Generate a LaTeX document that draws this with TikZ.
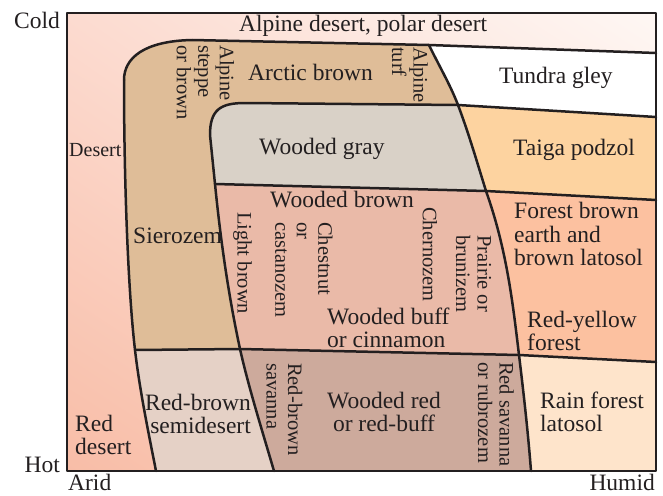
\documentclass[tikz,border=0pt]{standalone}
\usepackage{fontspec}
\setmainfont{Liberation Serif}
\usetikzlibrary{shadings}
\definecolor{bgUL}{HTML}{FCDBD0}
\definecolor{bgUR}{HTML}{FEF7F4}
\definecolor{bgLL}{HTML}{F8BDA7}
\definecolor{bgLR}{HTML}{FCD6C6}
\definecolor{tanc}{HTML}{DFBD98}
\definecolor{grayc}{HTML}{D9D1C7}
\definecolor{wbrownc}{HTML}{EABAA8}
\definecolor{taigac}{HTML}{FDD3A0}
\definecolor{forestc}{HTML}{FCC1A0}
\definecolor{rainc}{HTML}{FEE4CB}
\definecolor{semic}{HTML}{E5D1C6}
\definecolor{wredc}{HTML}{CDAA9C}
\definecolor{lc}{HTML}{231F20}
\definecolor{txt}{HTML}{231F20}
\begin{document}
\begin{tikzpicture}[x=1pt,y=-1pt,
  bnd/.style={draw=lc, line width=2.5pt, line join=round, line cap=round},
  lbl/.style={font=\fontsize{23.5}{23.5}\selectfont, text=txt, inner sep=0pt},
  smalllbl/.style={font=\fontsize{20}{20}\selectfont, text=txt, inner sep=0pt},
  rot/.style={font=\fontsize{20.5}{21.5}\selectfont, text=txt, inner sep=0pt,
    rotate=-90, anchor=west, align=left}]
\useasboundingbox (0,0) rectangle (663,495);
% key points
\coordinate (F1) at (67,13);
\coordinate (F3) at (656,471);
\coordinate (C0) at (124,80);
\coordinate (T0) at (192,40);
\coordinate (R0) at (429,45);
\coordinate (TR) at (656,53);
\coordinate (R1) at (458,105);
\coordinate (R2) at (486,191);
\coordinate (R3) at (519,355);
\coordinate (R4) at (531,471);
\coordinate (B1) at (656,117);
\coordinate (B2) at (656,200);
\coordinate (B3) at (656,362);
\coordinate (L1) at (135,350);
\coordinate (L2) at (156,471);
\coordinate (G0) at (210,135);
\coordinate (G1) at (245,103);
\coordinate (G2) at (215,184);
\coordinate (M1) at (240,349);
\coordinate (LB2) at (274,471);
% background
\shade[upper left=bgUL, upper right=bgUR, lower left=bgLL, lower right=bgLR] (F1) rectangle (F3);
% right column bands
\fill[white] (R0) -- (TR) -- (B1) -- (R1) -- (420,104) -- (420,45) -- cycle;
\fill[taigac] (R1) -- (B1) -- (B2) -- (R2) -- (420,190) -- (420,104) -- cycle;
\fill[forestc] (R2) -- (B2) -- (B3) -- (R3) -- (420,354) -- (420,190) -- cycle;
\fill[rainc] (R3) -- (B3) -- (F3) -- (R4) -- (420,471) -- (420,354) -- cycle;
% tan region
\fill[tanc] (C0) .. controls (124,58) and (144,41) .. (T0) -- (R0)
  .. controls (438.6,65) and (450.4,85) .. (R1)
  .. controls (468.6,133) and (477.3,163) .. (R2)
  .. controls (507,250) and (513,305) .. (R3) -- (M1) -- (L1)
  .. controls (128,290) and (124,180) .. (C0) -- cycle;
% wooded brown
\fill[wbrownc] (G2) -- (R2) .. controls (507,250) and (513,305) .. (R3) -- (M1)
  .. controls (228,293) and (220.5,239) .. (G2) -- cycle;
% wooded gray
\fill[grayc] (G0) .. controls (210,110) and (220,103) .. (G1) -- (R1)
  .. controls (468.6,133) and (477.3,163) .. (R2) -- (G2) -- cycle;
% red-brown semidesert
\fill[semic] (L1) -- (M1) .. controls (248.8,388) and (262,430) .. (LB2) -- (L2)
  .. controls (150,440) and (140,393) .. (L1) -- cycle;
% wooded red
\fill[wredc] (M1) -- (R3) .. controls (523.6,393) and (528,432) .. (R4) -- (LB2)
  .. controls (262,430) and (248.8,388) .. (M1) -- cycle;
% boundaries
\draw[bnd] (C0) .. controls (124,58) and (144,41) .. (T0) -- (R0) -- (TR);
\draw[bnd] (C0) .. controls (124,180) and (128,290) .. (L1)
  .. controls (140,393) and (150,440) .. (L2);
\draw[bnd] (R0) .. controls (438.6,65) and (450.4,85) .. (R1)
  .. controls (468.6,133) and (477.3,163) .. (R2)
  .. controls (507,250) and (513,305) .. (R3)
  .. controls (523.6,393) and (528,432) .. (R4);
\draw[bnd] (R1) -- (B1);
\draw[bnd] (R2) -- (B2);
\draw[bnd] (R3) -- (B3);
\draw[bnd] (G2) -- (G0) .. controls (210,110) and (220,103) .. (G1) -- (R1);
\draw[bnd] (G2) -- (R2);
\draw[bnd] (G2) .. controls (220.5,239) and (228,293) .. (M1)
  .. controls (248.8,388) and (262,430) .. (LB2);
\draw[bnd] (L1) -- (M1) -- (R3);
\draw[bnd] (F1) rectangle (F3);
% labels
\node[lbl, anchor=base east] (cold) at (60,29) {Cold};
\node[lbl, anchor=base east] (hot) at (60,472) {Hot};
\node[lbl, anchor=base west] (arid) at (68,490.5) {Arid};
\node[lbl, anchor=base east] (humid) at (655,490.5) {Humid};
\node[lbl, anchor=base west] (alpdes) at (239,32) {Alpine desert, polar desert};
\node[lbl, anchor=base west] (arctic) at (248,81) {Arctic brown};
\node[lbl, anchor=base west] (tundra) at (499,83) {Tundra gley};
\node[lbl, anchor=base west] (wgray) at (259,154) {Wooded gray};
\node[lbl, anchor=base west] (taiga) at (513,155) {Taiga podzol};
\node[lbl, anchor=base west] (wbrown) at (270,207) {Wooded brown};
\node[lbl, anchor=base west] (sieroz) at (133,243) {Sierozem};
\node[smalllbl, anchor=base west] (desert) at (69,156) {Desert};
\node[lbl, align=left, anchor=west] (forestb) at (514,234) {Forest brown\\earth and\\brown latosol};
\node[lbl, align=left, anchor=west] (redyel) at (527,331) {Red-yellow\\forest};
\node[lbl, align=left, anchor=west] (wbuff) at (327,328) {Wooded buff\\or cinnamon};
\node[lbl, align=center] (wred) at (384,412) {Wooded red\\or red-buff};
\node[lbl, align=left, anchor=west] (rainf) at (540,412) {Rain forest\\latosol};
\node[lbl, align=right, anchor=east] (semid) at (251,414) {Red-brown\\semidesert};
\node[lbl, align=left, anchor=west] (reddes) at (75,435) {Red\\desert};
\node[rot] (alpst) at (205.5,45) {Alpine\\steppe\\or brown};
\node[rot] (alpturf) at (410,47) {Alpine\\turf};
\node[rot] (lightb) at (242.5,212) {Light brown};
\node[rot] (chest) at (304,222) {Chestnut\\or\\castanozem};
\node[rot] (chern) at (430,207) {Chernozem};
\node[rot] (prairie) at (473.5,235) {Prairie or\\brunizem};
\node[rot] (rbsav) at (284.5,363) {Red-brown\\savanna};
\node[rot] (redsav) at (496,362) {Red savanna\\or rubrozem};
\end{tikzpicture}
\end{document}
